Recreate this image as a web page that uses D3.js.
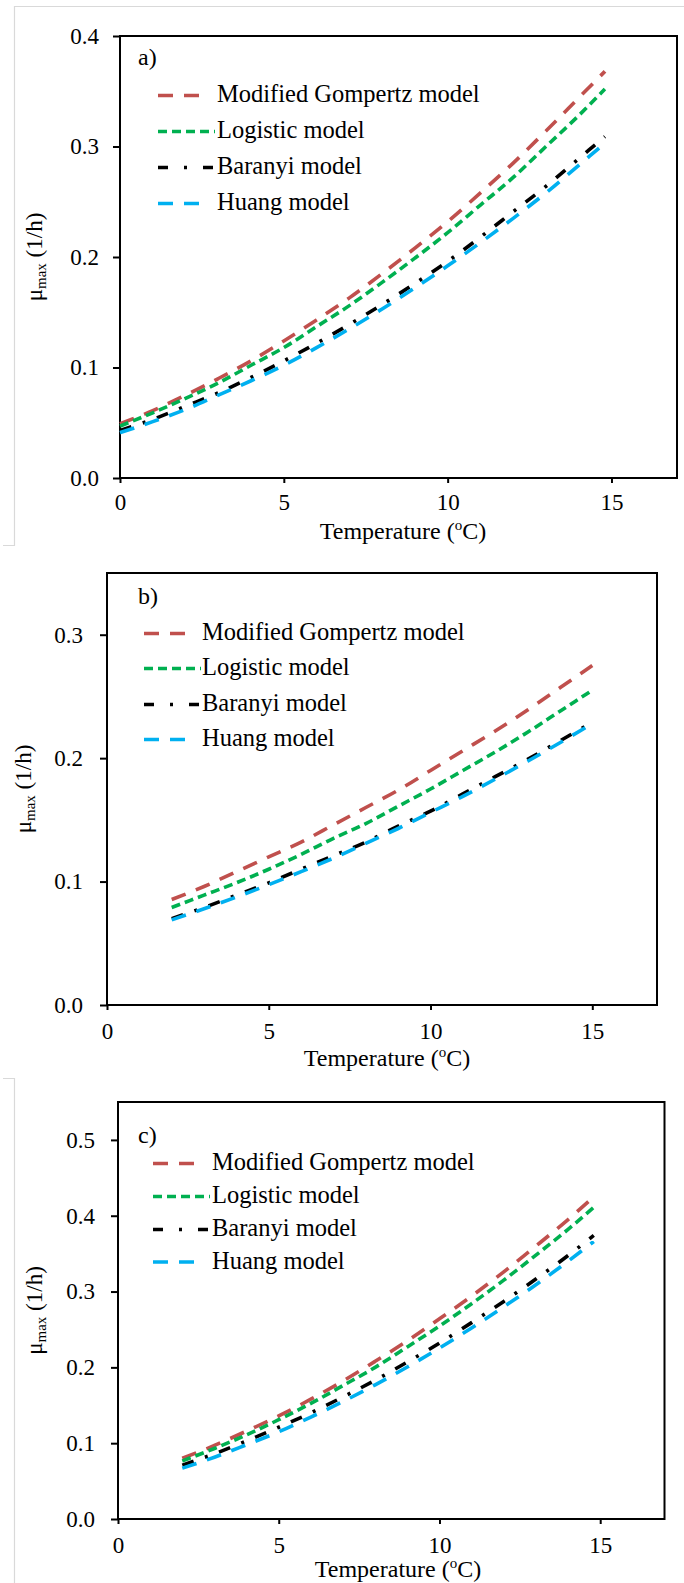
<!DOCTYPE html>
<html>
<head>
<meta charset="utf-8">
<script src="https://cdn.jsdelivr.net/npm/d3@7"></script>
<style>
  html, body { margin: 0; padding: 0; background: #fff; }
  svg { display: block; }
  text { font-family: "Liberation Serif", "Times New Roman", serif; fill: #000; }
</style>
</head>
<body>
<svg id="chart" width="684" height="1583"></svg>
<script>
// ---------- data ----------
const seriesNames = ["Modified Gompertz model", "Logistic model", "Baranyi model", "Huang model"];
const panelLabels = ["a)", "b)", "c)"];
const xTicks = [0, 5, 10, 15];
const xTickLabels = ["0", "5", "10", "15"];
const xTitle = "Temperature (";
const yTitle = "μ";

// panel a
const tempsA = [0, 1, 2, 3, 4, 5, 6, 7, 8, 9, 10, 11, 12, 13, 14, 14.8];
const gompertzA = [0.049, 0.061, 0.075, 0.090, 0.106, 0.124, 0.143, 0.163, 0.185, 0.208, 0.232, 0.258, 0.285, 0.314, 0.344, 0.368];
const logisticA = [0.047, 0.059, 0.072, 0.086, 0.102, 0.118, 0.137, 0.156, 0.177, 0.199, 0.222, 0.247, 0.272, 0.300, 0.328, 0.352];
const baranyiA  = [0.043, 0.053, 0.065, 0.077, 0.091, 0.106, 0.122, 0.139, 0.157, 0.176, 0.196, 0.218, 0.241, 0.264, 0.289, 0.309];
const huangA    = [0.041, 0.051, 0.062, 0.075, 0.088, 0.102, 0.118, 0.135, 0.153, 0.172, 0.192, 0.213, 0.235, 0.258, 0.283, 0.303];
const yTicksA = [0, 0.1, 0.2, 0.3, 0.4];
const yTickLabelsA = ["0.0", "0.1", "0.2", "0.3", "0.4"];

// panel b
const tempsB = [2, 3, 4, 5, 6, 7, 8, 9, 10, 11, 12, 13, 14, 15];
const gompertzB = [0.0855, 0.096, 0.108, 0.120, 0.132, 0.146, 0.160, 0.174, 0.190, 0.206, 0.222, 0.239, 0.257, 0.275];
const logisticB = [0.079, 0.089, 0.099, 0.110, 0.122, 0.135, 0.147, 0.161, 0.175, 0.190, 0.205, 0.221, 0.238, 0.255];
const baranyiB  = [0.070, 0.079, 0.089, 0.099, 0.110, 0.121, 0.132, 0.145, 0.157, 0.171, 0.185, 0.199, 0.214, 0.229];
const huangB    = [0.069, 0.078, 0.0875, 0.0975, 0.108, 0.119, 0.131, 0.143, 0.156, 0.169, 0.183, 0.1975, 0.2125, 0.228];
const yTicksB = [0, 0.1, 0.2, 0.3];
const yTickLabelsB = ["0.0", "0.1", "0.2", "0.3"];

// panel c
const tempsC = [2, 3, 4, 5, 6, 7, 8, 9, 10, 11, 12, 13, 14, 14.8];
const gompertzC = [0.080, 0.097, 0.116, 0.136, 0.158, 0.182, 0.208, 0.235, 0.264, 0.294, 0.326, 0.360, 0.395, 0.425];
const logisticC = [0.0765, 0.093, 0.111, 0.131, 0.1525, 0.176, 0.200, 0.227, 0.2545, 0.284, 0.315, 0.348, 0.382, 0.411];
const baranyiC  = [0.071, 0.086, 0.103, 0.121, 0.140, 0.161, 0.183, 0.207, 0.232, 0.259, 0.287, 0.3165, 0.3475, 0.374];
const huangC    = [0.067, 0.0815, 0.098, 0.115, 0.1345, 0.155, 0.177, 0.2005, 0.2255, 0.252, 0.280, 0.309, 0.340, 0.366];
const yTicksC = [0, 0.1, 0.2, 0.3, 0.4, 0.5];
const yTickLabelsC = ["0.0", "0.1", "0.2", "0.3", "0.4", "0.5"];

// ---------- styles ----------
const colors = ["#C0504D", "#00B050", "#000000", "#00B0F0"];
const dashes = ["15,11", "9,5", "12,12,3,12", "15,11"];

const svg = d3.select("#chart");

// light gray page frames
const frame = svg.append("g").attr("stroke", "#d9d9d9").attr("stroke-width", 1.2).attr("fill", "none");
frame.append("path").attr("d", "M684,6.5 H14.5 V545.5 H3");
frame.append("path").attr("d", "M3,1078.5 H14.5 V1583");

const panels = [
  { temps: tempsA, series: [gompertzA, logisticA, baranyiA, huangA], yMax: 0.4, yTicks: yTicksA, yLabels: yTickLabelsA,
    left: 120, right: 677, top: 36, bottom: 478, yPad: 14, xPad: 11,
    label: panelLabels[0], labelX: 138, labelY: 65,
    legX: 158, legTextX: 217, legY: [102, 138, 174, 210],
    xTitleX: 403, xTitleY: 539, yTitleX: 42 },
  { temps: tempsB, series: [gompertzB, logisticB, baranyiB, huangB], yMax: 0.35, yTicks: yTicksB, yLabels: yTickLabelsB,
    left: 107, right: 657, top: 573, bottom: 1005, yPad: 17, xPad: 13,
    label: panelLabels[1], labelX: 138, labelY: 604,
    legX: 144, legTextX: 202, legY: [640, 675, 711, 746],
    xTitleX: 387, xTitleY: 1066, yTitleX: 31 },
  { temps: tempsC, series: [gompertzC, logisticC, baranyiC, huangC], yMax: 0.55, yTicks: yTicksC, yLabels: yTickLabelsC,
    left: 118, right: 664.5, top: 1102, bottom: 1519, yPad: 16, xPad: 13,
    label: panelLabels[2], labelX: 138, labelY: 1143,
    legX: 153, legTextX: 212, legY: [1170, 1203, 1236, 1268.5],
    xTitleX: 398, xTitleY: 1577, yTitleX: 42 }
];

panels.forEach(p => {
  const g = svg.append("g");
  const x = d3.scaleLinear().domain([0, 17]).range([p.left, p.right]);
  const y = d3.scaleLinear().domain([0, p.yMax]).range([p.bottom, p.top]);

  // frame
  g.append("rect")
    .attr("x", p.left).attr("y", p.top)
    .attr("width", p.right - p.left).attr("height", p.bottom - p.top)
    .attr("fill", "none").attr("stroke", "#000").attr("stroke-width", 2);

  // y axis
  const yAxis = d3.axisLeft(y).tickValues(p.yTicks)
    .tickFormat((d, i) => p.yLabels[i]).tickSize(7).tickSizeOuter(0).tickPadding(p.yPad);
  const ya = g.append("g").attr("transform", `translate(${p.left},0)`).call(yAxis);
  ya.select(".domain").remove();
  ya.selectAll("line").attr("stroke-width", 2);
  ya.selectAll("text").attr("font-size", 23).attr("font-family", "Liberation Serif").attr("fill", "#000");

  // x axis
  const xAxis = d3.axisBottom(x).tickValues(xTicks)
    .tickFormat((d, i) => xTickLabels[i]).tickSize(5).tickSizeOuter(0).tickPadding(p.xPad);
  const xa = g.append("g").attr("transform", `translate(0,${p.bottom})`).call(xAxis);
  xa.select(".domain").remove();
  xa.selectAll("line").attr("stroke-width", 2);
  xa.selectAll("text").attr("font-size", 23).attr("font-family", "Liberation Serif").attr("fill", "#000");

  // lines
  const line = d3.line().x((d, i) => x(p.temps[i])).y(d => y(d)).curve(d3.curveMonotoneX);
  p.series.forEach((vals, si) => {
    g.append("path").datum(vals)
      .attr("d", line)
      .attr("fill", "none")
      .attr("stroke", colors[si])
      .attr("stroke-width", 3.6)
      .attr("stroke-dasharray", dashes[si]);
  });

  // panel label
  g.append("text").attr("x", p.labelX).attr("y", p.labelY).attr("font-size", 24).text(p.label);

  // legend
  const legEnds = [43, 57, 57, 43];
  seriesNames.forEach((name, si) => {
    const by = p.legY[si];
    g.append("line")
      .attr("x1", p.legX).attr("x2", p.legX + legEnds[si])
      .attr("y1", by - 6.5).attr("y2", by - 6.5)
      .attr("stroke", colors[si]).attr("stroke-width", 3.6)
      .attr("stroke-dasharray", si === 2 ? "10,16,3,16,10" : dashes[si]);
    g.append("text").attr("x", p.legTextX).attr("y", by).attr("font-size", 24.5).text(name);
  });

  // x title
  const xt = g.append("text").attr("x", p.xTitleX).attr("y", p.xTitleY)
    .attr("text-anchor", "middle").attr("font-size", 24);
  xt.append("tspan").text(xTitle);
  xt.append("tspan").attr("font-size", 15).attr("dy", -9).text("o");
  xt.append("tspan").attr("dy", 9).text("C)");

  // y title
  const cy = (p.top + p.bottom) / 2;
  const yt = g.append("text")
    .attr("transform", `translate(${p.yTitleX},${cy}) rotate(-90)`)
    .attr("text-anchor", "middle").attr("font-size", 23);
  yt.append("tspan").text(yTitle);
  yt.append("tspan").attr("font-size", 15).attr("dy", 4).text("max");
  yt.append("tspan").attr("dy", -4).text(" (1/h)");
});
</script>
</body>
</html>
